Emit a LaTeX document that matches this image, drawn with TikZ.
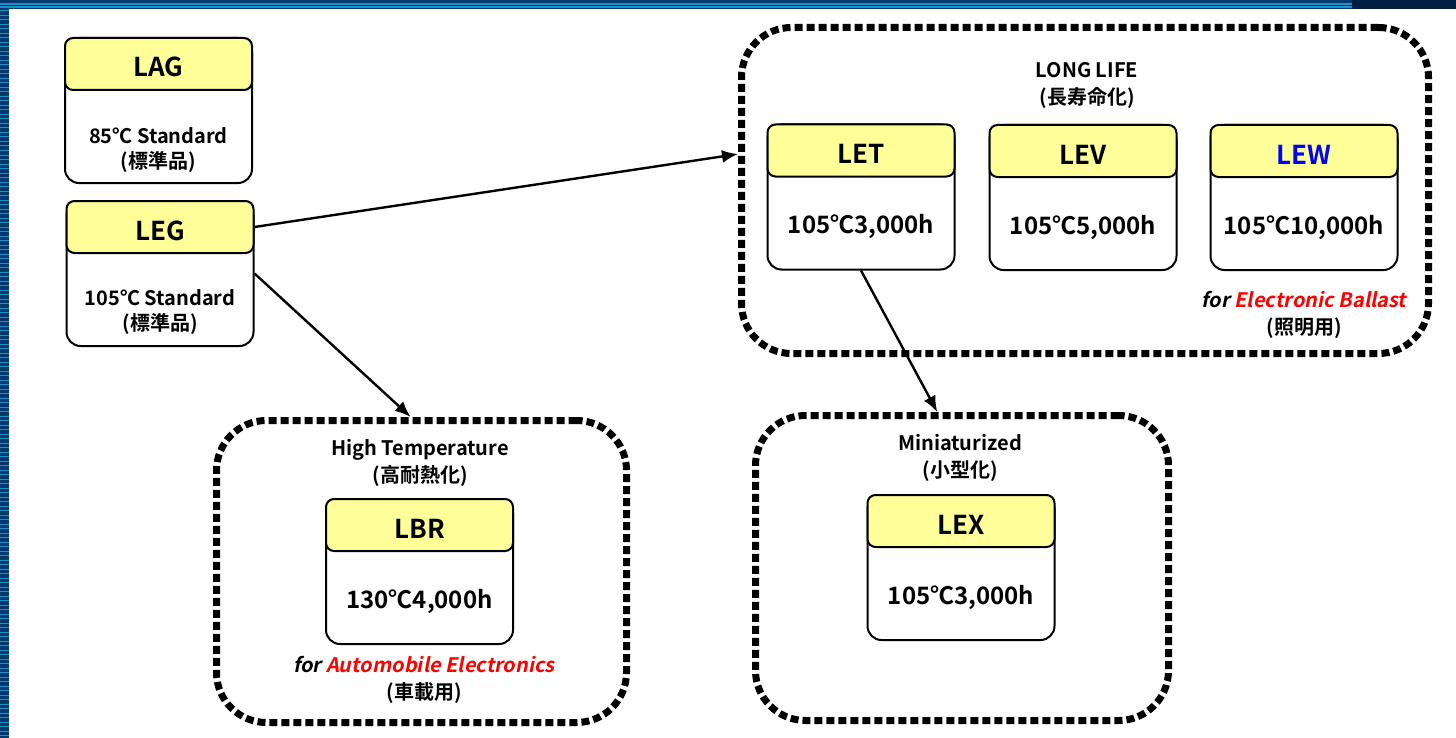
\documentclass[tikz,border=0pt]{standalone}
\usepackage{fontspec}
\setmainfont{Noto Sans CJK JP Bold}
\newfontfamily\slfont{Noto Sans CJK JP Bold}[FakeSlant=0.2]
\usetikzlibrary{arrows.meta}
\definecolor{headyellow}{HTML}{FFFF99}
\definecolor{framenavy}{HTML}{00396E}
\definecolor{framelight}{HTML}{1E90C8}
\definecolor{framedark}{HTML}{001E40}

\begin{document}
\begin{tikzpicture}[x=0.5pt, y=-0.5pt,
    prodbox/.style={draw, fill=white, line width=1pt, rounded corners=7pt, minimum width=93.5pt, minimum height=72.5pt},
    prodhead/.style={draw, fill=headyellow, line width=1pt, rounded corners=4pt, minimum width=93.5pt, minimum height=26pt, text height=13pt, text depth=0pt, anchor=north, font=\fontsize{13}{15}\selectfont},
    prodtext/.style={align=center, font=\fontsize{10}{12.5}\selectfont},
    spectext/.style={font=\fontsize{12}{14}\selectfont},
    group/.style={draw, line width=3.5pt, dash pattern=on 4pt off 2pt, rounded corners=25pt},
    grouptext/.style={align=center, font=\fontsize{10}{13.5}\selectfont},
    link/.style={-{Latex[length=8pt, width=6.5pt]}, line width=1.2pt}]
    \useasboundingbox (0,0) rectangle (1456,738);
    % frame: striped bars on the left and top
    \fill[framenavy] (0,0) rectangle (9,738);
    \foreach \y in {11,15.5,...,738}
        \draw[framelight, line width=0.5pt] (0,\y) -- (9,\y);
    \fill[framenavy] (0,0) rectangle (1352,9);
    \fill[framedark] (1352,0) rectangle (1456,9);
    \draw[framelight, line width=0.6pt] (0,4) -- (1352,4);
    \draw[framelight, line width=0.6pt] (0,7) -- (1352,7);

    % dotted groups
    \node[group, minimum width=343.5pt, minimum height=163pt] (life) at (1085,190.5) {};
    \node[group, minimum width=205pt, minimum height=151pt] (hot) at (421.5,571.5) {};
    \node[group, minimum width=206.5pt, minimum height=152.5pt] (mini) at (962,568) {};
    \node[grouptext] (lifet) at (1087,85) {LONG LIFE\\(長寿命化)};
    \node[grouptext] (lifeuse) at (1304,314.5) {{\slfont for \textcolor{red}{Electronic Ballast}}\\(照明用)};
    \node[grouptext] (hott) at (420,463) {High Temperature\\(高耐熱化)};
    \node[grouptext] (hotuse) at (424,679.5) {{\slfont for \textcolor{red}{Automobile Electronics}}\\(車載用)};
    \node[grouptext] (minit) at (960,458) {Miniaturized\\(小型化)};

    % standard series
    \node[prodbox] (LAG) at (158.5,110.5) {};
    \node[prodhead] (LAGh) at (LAG.north) {LAG};
    \node[prodtext] (LAGt) at (158.5,150.5) {85℃ Standard\\(標準品)};
    \node[prodbox] (LEG) at (160,273.5) {};
    \node[prodhead] (LEGh) at (LEG.north) {LEG};
    \node[prodtext] (LEGt) at (160,312.5) {105℃ Standard\\(標準品)};

    % long life series
    \node[prodbox] (LET) at (861,197) {};
    \node[prodhead] (LETh) at (LET.north) {LET};
    \node[spectext] (LETt) at (861,226) {105℃3,000h};
    \node[prodbox] (LEV) at (1083,197.5) {};
    \node[prodhead] (LEVh) at (LEV.north) {LEV};
    \node[spectext] (LEVt) at (1083,227) {105℃5,000h};
    \node[prodbox] (LEW) at (1304,197.5) {};
    \node[prodhead] (LEWh) at (LEW.north) {\textcolor{blue}{LEW}};
    \node[spectext] (LEWt) at (1304,227) {105℃10,000h};

    % high temperature and miniaturized
    \node[prodbox] (LBR) at (419.5,571.5) {};
    \node[prodhead] (LBRh) at (LBR.north) {LBR};
    \node[spectext] (LBRt) at (419.5,601) {130℃4,000h};
    \node[prodbox] (LEX) at (961,567.5) {};
    \node[prodhead] (LEXh) at (LEX.north) {LEX};
    \node[spectext] (LEXt) at (961,597) {105℃3,000h};

    % links
    \draw[link] (LEGh.east) -- (life.174);
    \draw[link] (LEG.east) -- (hot.94);
    \draw[link] (LET.south) -- (mini.99);
\end{tikzpicture}
\end{document}
